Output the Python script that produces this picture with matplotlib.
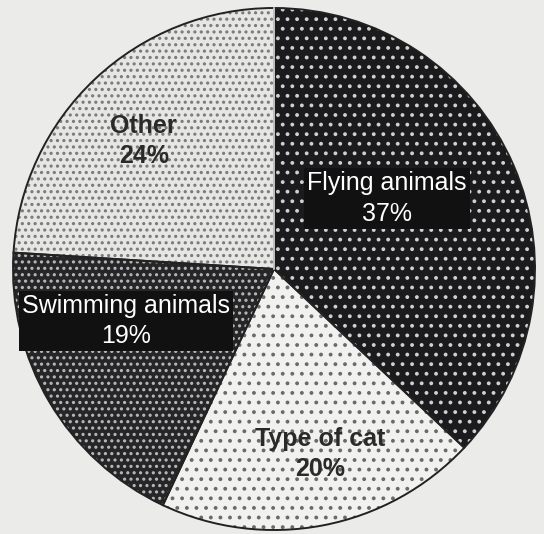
import matplotlib
matplotlib.use("Agg")
import matplotlib.pyplot as plt
import numpy as np

# chart data
labels = ["Flying animals", "Type of cat", "Swimming animals", "Other"]
shares = [37, 20, 19, 24]

# styling per wedge
face_colors = ["#1b1a1c", "#f1f1ef", "#262527", "#e6e6e4"]
dot_colors = ["#d0d0d0", "#6a6a6a", "#b8b8b8", "#7a7a7a"]
hatches = ["..", "..", "...", "..."]
text_colors = ["white", "#2a2a2a", "white", "#2a2a2a"]
text_weights = ["normal", "bold", "normal", "bold"]
text_boxes = [True, False, True, False]
label_radius = [0.51, 0.73, 0.60, 0.70]
label_shift = [8.6, 3.2, -11.1, 2.3]  # degrees away from the wedge middle

DPI = 115  # hatch spacing follows the dpi, this one gives ~10px dots like the scan
PX = 72 / DPI  # points per pixel

plt.rcParams["font.family"] = ["Liberation Sans", "DejaVu Sans"]
plt.rcParams["hatch.linewidth"] = 1.2

fig = plt.figure(figsize=(544 / DPI, 534 / DPI), dpi=DPI)
fig.patch.set_facecolor("#ebebe9")
ax = fig.add_axes([0, 0, 1, 1])
ax.set_facecolor("#ebebe9")

# hatched fill (hatch takes the edge colour), then the outlines on top
wedges, _ = ax.pie(shares, startangle=90, counterclock=False,
                   colors=face_colors,
                   wedgeprops=dict(linewidth=0))
for w, dc, h in zip(wedges, dot_colors, hatches):
    w.set_edgecolor(dc)
    w.set_hatch(h)

outline, _ = ax.pie(shares, startangle=90, counterclock=False,
                    wedgeprops=dict(fill=False, edgecolor="#222222", linewidth=1.4 * PX * 1.39))
# thin light seam between Other and Flying animals
ax.plot([0, 0], [0, 1], color="#f4f4f2", lw=1.5 * PX)

for w, lab, pct, tc, tw, box, r, sh in zip(wedges, labels, shares, text_colors,
                                           text_weights, text_boxes,
                                           label_radius, label_shift):
    mid = np.deg2rad((w.theta1 + w.theta2) / 2 + sh)
    x, y = r * np.cos(mid), r * np.sin(mid)
    bbox = dict(boxstyle="square,pad=0.12", fc="#111111", ec="none") if box else None
    ax.text(x, y, f"{lab}\n{pct}%", ha="center", va="center", fontsize=25 * PX,
            color=tc, fontweight=tw, linespacing=1.32, bbox=bbox)

# centre at pixel (274, 269), radius 261 px
ax.set_xlim(-274 / 261, (544 - 274) / 261)
ax.set_ylim(-(534 - 269) / 261, 269 / 261)
ax.set_aspect("auto")
ax.axis("off")

fig.savefig("out.png", dpi=DPI, facecolor=fig.get_facecolor())
